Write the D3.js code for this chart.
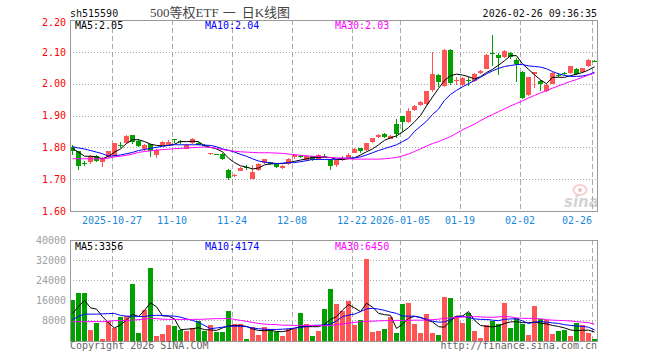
<!DOCTYPE html>
<html>
<head>
<meta charset="utf-8">
<script src="https://cdn.jsdelivr.net/npm/d3@7"></script>
<style>
  body { margin: 0; background: #fff; }
  svg { display: block; }
</style>
</head>
<body>
<svg id="kline" width="660" height="360"></svg>
<script>
// ---------------------------------------------------------------------------------------------------//
//                                   500等权ETF  DAILY K-LINE
// ---------------------------------------------------------------------------------------------------//

var dates = [
  "2025-10-16","2025-10-17","2025-10-20","2025-10-21","2025-10-22","2025-10-23","2025-10-24","2025-10-27","2025-10-28","2025-10-29","2025-10-30","2025-10-31",
  "2025-11-03","2025-11-04","2025-11-05","2025-11-06","2025-11-07","2025-11-10","2025-11-11","2025-11-12","2025-11-13","2025-11-14",
  "2025-11-17","2025-11-18","2025-11-19","2025-11-20","2025-11-21","2025-11-24","2025-11-25","2025-11-26","2025-11-27","2025-11-28",
  "2025-12-01","2025-12-02","2025-12-03","2025-12-04","2025-12-05","2025-12-08","2025-12-09","2025-12-10","2025-12-11","2025-12-12",
  "2025-12-15","2025-12-16","2025-12-17","2025-12-18","2025-12-19","2025-12-22","2025-12-23","2025-12-24","2025-12-25","2025-12-26",
  "2025-12-29","2025-12-30","2025-12-31","2026-01-05","2026-01-06","2026-01-07","2026-01-08","2026-01-09","2026-01-12","2026-01-13",
  "2026-01-14","2026-01-15","2026-01-16","2026-01-19","2026-01-20","2026-01-21","2026-01-22","2026-01-23","2026-01-26","2026-01-27",
  "2026-01-28","2026-01-29","2026-01-30","2026-02-02","2026-02-03","2026-02-04","2026-02-05","2026-02-06","2026-02-09","2026-02-10",
  "2026-02-11","2026-02-12","2026-02-13","2026-02-24","2026-02-25","2026-02-26"
];

var openP = [
  1.800,1.787,1.752,1.754,1.773,1.757,1.770,1.772,1.808,1.815,1.838,1.820,1.792,1.809,1.777,1.808,1.809,1.826,1.821,1.797,1.812,1.815,
  1.806,1.780,1.778,1.780,1.730,1.710,1.727,1.738,1.703,1.729,1.750,1.753,1.750,1.736,1.748,1.770,1.772,1.760,1.772,1.762,1.774,1.760,
  1.745,1.760,1.766,1.783,1.797,1.793,1.816,1.833,1.843,1.828,1.873,1.897,1.880,1.918,1.934,1.936,1.979,2.027,1.995,2.107,2.006,1.996,
  2.012,2.007,2.034,2.047,2.097,2.090,2.083,2.097,2.074,2.037,1.963,2.032,2.008,1.976,2.001,2.028,2.034,2.032,2.045,2.037,2.055,2.072
];
var highP = [
  1.806,1.790,1.758,1.775,1.776,1.771,1.790,1.815,1.816,1.840,1.840,1.826,1.810,1.812,1.795,1.820,1.822,1.827,1.824,1.810,1.830,1.818,
  1.810,1.783,1.779,1.782,1.732,1.716,1.737,1.743,1.746,1.750,1.764,1.755,1.752,1.744,1.766,1.778,1.775,1.776,1.774,1.778,1.780,1.762,
  1.762,1.773,1.781,1.797,1.798,1.815,1.830,1.843,1.844,1.838,1.888,1.900,1.924,1.932,1.945,1.978,2.100,2.030,2.108,2.108,2.020,2.020,
  2.020,2.032,2.042,2.092,2.153,2.095,2.106,2.100,2.080,2.040,2.022,2.038,2.010,1.998,2.037,2.032,2.037,2.057,2.050,2.050,2.078,2.073
];
var lowP = [
  1.775,1.728,1.742,1.749,1.755,1.738,1.768,1.770,1.798,1.812,1.812,1.800,1.788,1.771,1.766,1.806,1.806,1.813,1.812,1.795,1.810,1.806,
  1.800,1.776,1.776,1.760,1.698,1.706,1.725,1.730,1.700,1.727,1.748,1.745,1.735,1.732,1.745,1.762,1.765,1.758,1.758,1.760,1.768,1.730,
  1.737,1.757,1.764,1.781,1.782,1.790,1.814,1.828,1.828,1.826,1.828,1.848,1.878,1.915,1.930,1.933,1.975,1.990,1.990,1.995,1.995,1.994,
  1.992,2.005,2.030,2.045,2.055,2.028,2.080,2.076,2.006,1.953,1.960,1.985,1.976,1.974,1.998,2.022,2.028,2.030,2.027,2.035,2.052,2.070
];
var closeP = [
  1.786,1.740,1.750,1.772,1.758,1.768,1.788,1.813,1.806,1.836,1.816,1.805,1.806,1.787,1.793,1.817,1.818,1.825,1.818,1.808,1.825,1.810,
  1.804,1.782,1.777,1.763,1.704,1.714,1.735,1.736,1.724,1.748,1.762,1.748,1.738,1.742,1.764,1.776,1.768,1.774,1.760,1.775,1.772,1.740,
  1.760,1.765,1.775,1.795,1.789,1.814,1.828,1.840,1.834,1.836,1.842,1.877,1.915,1.929,1.942,1.976,2.029,2.006,2.107,2.002,2.010,2.018,
  2.008,2.030,2.040,2.090,2.094,2.082,2.103,2.086,2.060,1.956,2.020,2.037,2.000,1.996,2.034,2.026,2.033,2.054,2.030,2.048,2.074,2.071
];

// moving averages as drawn on the chart
var ma5 = [
  1.796,1.785,1.772,1.772,1.770,1.764,1.772,1.785,1.795,1.812,1.824,1.824,1.818,1.810,1.806,1.805,1.806,1.810,1.818,1.818,1.819,1.818,
  1.805,1.800,1.795,1.786,1.766,1.752,1.742,1.738,1.732,1.735,1.745,1.748,1.749,1.749,1.752,1.756,1.760,1.764,1.768,1.768,1.769,1.768,
  1.762,1.762,1.764,1.767,1.776,1.786,1.795,1.808,1.822,1.830,1.836,1.848,1.862,1.880,1.900,1.930,1.958,1.985,2.010,2.025,2.030,2.027,
  2.022,2.015,2.022,2.035,2.045,2.058,2.072,2.088,2.088,2.062,2.045,2.028,2.012,2.000,2.020,2.020,2.020,2.025,2.030,2.035,2.043,2.053
];
var ma10 = [
  1.802,1.798,1.795,1.790,1.785,1.780,1.772,1.774,1.776,1.780,1.784,1.790,1.793,1.797,1.800,1.803,1.806,1.808,1.808,1.808,1.808,1.808,
  1.807,1.806,1.802,1.795,1.791,1.785,1.778,1.772,1.764,1.757,1.754,1.751,1.749,1.750,1.752,1.752,1.755,1.758,1.762,1.762,1.762,1.762,
  1.763,1.766,1.766,1.767,1.770,1.776,1.783,1.790,1.796,1.802,1.808,1.818,1.828,1.850,1.866,1.882,1.903,1.920,1.948,1.966,1.979,1.990,
  2.000,2.010,2.020,2.031,2.040,2.048,2.054,2.057,2.060,2.060,2.056,2.054,2.052,2.047,2.038,2.031,2.026,2.023,2.023,2.024,2.028,2.036
];
var ma30 = [
  1.764,1.764,1.764,1.764,1.764,1.764,1.766,1.770,1.772,1.775,1.779,1.784,1.787,1.789,1.791,1.793,1.794,1.796,1.797,1.798,1.799,1.800,
  1.801,1.800,1.797,1.793,1.790,1.788,1.786,1.785,1.784,1.783,1.783,1.783,1.782,1.781,1.779,1.777,1.775,1.773,1.772,1.771,1.770,1.768,
  1.767,1.766,1.764,1.763,1.763,1.763,1.763,1.763,1.764,1.766,1.768,1.773,1.779,1.787,1.795,1.804,1.812,1.818,1.826,1.834,1.844,1.855,
  1.864,1.873,1.884,1.894,1.903,1.912,1.921,1.930,1.938,1.946,1.955,1.963,1.971,1.978,1.986,1.993,2.000,2.007,2.013,2.020,2.027,2.033
];

var volume = [
  16100,19100,19100,4100,6800,700,7900,4800,9200,9700,22500,2800,12100,28800,1700,2500,6100,5700,4100,3700,4800,7900,
  3700,6100,3200,3200,11900,6500,6500,500,5200,2100,5500,4400,3500,1700,4400,4500,11100,6500,1700,3900,12500,20500,
  14500,11700,15700,6100,8100,32500,3300,3900,4500,9300,2900,14500,14900,6500,2900,10500,2900,2100,17300,16900,9700,6900,
  10900,3700,900,6100,7700,6500,14900,4900,8900,6500,2100,13700,8500,8100,2500,3700,4100,1700,6900,6100,2900,500
];
var volMa5 = [
  10800,13500,16000,13000,12500,9500,7000,5000,6200,8100,10500,9500,12000,15000,13400,9800,9700,8600,4300,4500,4700,5100,
  4300,4200,4000,5000,5800,6000,6000,5600,4600,4000,3900,4000,3600,3500,4000,4900,5500,5500,5500,5500,6400,8400,
  9500,12100,14300,13000,11500,14800,13300,10800,10300,10000,4800,6500,8800,9600,9200,8100,7400,5500,5300,7800,9700,9700,
  11500,8000,6000,5600,5400,5800,6800,7400,7500,7100,7100,7300,6900,6600,6000,5600,5000,4200,3900,4100,4100,3400
];
var volMa10 = [
  8300,9600,10500,10500,10500,10600,10700,10800,10000,9700,9700,9600,9500,10000,10000,10000,9800,9700,9300,8600,8000,7200,
  6000,4700,5000,5300,5700,5700,5700,5500,5000,4700,4500,4400,4400,4500,4700,4900,5200,5600,6000,6100,6100,6500,
  7800,9500,10100,10500,11500,12600,12800,12500,12000,11300,10800,9700,9700,9700,9100,8500,7700,7300,7400,8400,9400,9700,
  9200,8600,8400,8400,8100,7900,8400,8600,8600,7800,6800,7300,7600,7300,7000,6800,6300,6000,5800,5600,5300,4200
];
var volMa30 = [
  7500,7500,7500,7500,7500,7500,7700,7900,7900,8000,8100,8300,8500,8800,8700,8500,8400,8400,8400,8400,8400,8400,
  8500,8600,8700,8700,8800,8400,8000,7600,7200,6800,6500,6400,6300,6100,6100,6000,6000,6000,6000,5900,5900,5900,
  6300,6600,6900,7200,7500,7600,7700,7800,7900,7900,8000,8000,8000,8100,8100,8100,8300,8500,8800,9000,9200,9300,
  9500,9500,9400,9300,9200,9400,9600,9400,9000,8800,8800,8800,8600,8300,8100,8000,7900,7800,7500,7300,7100,6500
];

var tickDates  = ["2025-10-27","2025-11-10","2025-11-24","2025-12-08","2025-12-22","2026-01-05","2026-01-19","2026-02-02","2026-02-26"];
var tickLabels = ["2025-10-27","11-10","11-24","12-08","12-22","2026-01-05","01-19","02-02","02-26"];
var priceTicks = [1.60, 1.70, 1.80, 1.90, 2.00, 2.10, 2.20];
var volTicks   = [8000, 16000, 24000, 32000, 40000];

var maLabels  = ["MA5:2.05", "MA10:2.04", "MA30:2.03"];
var volLabels = ["MA5:3356", "MA10:4174", "MA30:6450"];

// ---------------------------------------------------------------------------------------------------//

var RED = "#ff5555", GREEN = "#00a000";
var MA_COLORS = ["#000000", "#0000ff", "#ff00ff"];
var MONO = "'DejaVu Sans Mono', monospace";

var svg = d3.select("#kline");
var left = 70, right = 598;
var price = {top: 20, bottom: 211};
var vol = {top: 240, bottom: 340.5};

var x = d3.scaleBand().domain(dates).range([left, right]);
var yP = d3.scaleLinear().domain([1.6, 2.2]).range([price.bottom, price.top]);
var yV = d3.scaleLinear().domain([0, 40000]).range([vol.bottom, vol.top]);

function slot(d) { return Math.round(x(d)); }
function mid(d) { return slot(d) + 2.5; }
function isUp(i) { return closeP[i] >= openP[i]; }

//header
svg.append("text").attr("x", 70).attr("y", 16.5)
    .attr("font-family", MONO).attr("font-size", 10).attr("fill", "#111")
    .text("sh515590");
var title = svg.append("text").attr("x", 150).attr("y", 16.5)
    .attr("font-family", "'Liberation Serif', 'Noto Sans CJK SC'").attr("font-size", 13).attr("fill", "#444");
title.append("tspan").text("500等权ETF");
title.append("tspan").attr("dx", 4).text("一");
title.append("tspan").attr("dx", 6).text("日K线图");
svg.append("text").attr("x", 597).attr("y", 16.5).attr("text-anchor", "end")
    .attr("font-family", MONO).attr("font-size", 10).attr("fill", "#111")
    .text("2026-02-26 09:36:35");

//grid for one panel
function drawGrid(top, bottom, yScale, ticks) {
    var g = svg.append("g").attr("shape-rendering", "crispEdges");
    g.selectAll(".h").data(ticks.filter(function(t){ return Math.abs(yScale(t) - top) > 2 && Math.abs(yScale(t) - bottom) > 2; }))
      .enter().append("line")
        .attr("x1", left).attr("x2", 597)
        .attr("y1", function(t){ return Math.round(yScale(t)) + 0.5; })
        .attr("y2", function(t){ return Math.round(yScale(t)) + 0.5; })
        .attr("stroke", "#a8a8a8").attr("stroke-dasharray", "1,2");
    g.selectAll(".v").data(tickDates).enter().append("line")
        .attr("x1", function(d){ return slot(d) + 0.5; })
        .attr("x2", function(d){ return slot(d) + 0.5; })
        .attr("y1", top).attr("y2", bottom)
        .attr("stroke", "#aaaaaa").attr("stroke-dasharray", "5,3");
}

drawGrid(price.top, price.bottom, yP, priceTicks);
drawGrid(vol.top, vol.bottom, yV, volTicks);

//candles
var candles = svg.append("g").attr("shape-rendering", "crispEdges");
candles.selectAll(".wick").data(dates).enter().append("line")
    .attr("x1", mid).attr("x2", mid)
    .attr("y1", function(d, i){ return yP(highP[i]); })
    .attr("y2", function(d, i){ return yP(lowP[i]); })
    .attr("stroke", function(d, i){ return isUp(i) ? RED : GREEN; });
candles.selectAll(".body").data(dates).enter().append("rect")
    .attr("x", slot).attr("width", 5)
    .attr("y", function(d, i){ return Math.round(yP(Math.max(openP[i], closeP[i]))); })
    .attr("height", function(d, i){ return Math.max(1, Math.round(Math.abs(yP(openP[i]) - yP(closeP[i])))); })
    .attr("fill", function(d, i){ return isUp(i) ? RED : GREEN; });

//volume bars
svg.append("g").attr("shape-rendering", "crispEdges")
  .selectAll("rect").data(dates).enter().append("rect")
    .attr("x", slot).attr("width", 5)
    .attr("y", function(d, i){ return yV(volume[i]); })
    .attr("height", function(d, i){ return yV(0) - yV(volume[i]); })
    .attr("fill", function(d, i){ return isUp(i) ? RED : GREEN; });

//MA lines
function drawLines(series, yScale) {
    series.forEach(function(s, k) {
        var line = d3.line()
            .x(function(v, i){ return mid(dates[i]); })
            .y(function(v){ return yScale(v); });
        svg.append("path").datum(s)
            .attr("fill", "none").attr("stroke", MA_COLORS[k]).attr("stroke-width", 1)
            .attr("d", line);
    });
}
drawLines([ma5, ma10, ma30], yP);
drawLines([volMa5, volMa10, volMa30], yV);

//frames
[price, vol].forEach(function(p) {
    svg.append("rect").attr("x", left + 0.5).attr("y", Math.round(p.top) + 0.5)
        .attr("width", 597 - left).attr("height", Math.round(p.bottom) - Math.round(p.top))
        .attr("fill", "none").attr("stroke", "#999").attr("shape-rendering", "crispEdges");
});

//axes
var priceAxis = svg.append("g").attr("transform", "translate(" + left + ",0)")
    .call(d3.axisLeft(yP).tickValues(priceTicks).tickFormat(d3.format(".2f")).tickSize(0).tickPadding(4));
priceAxis.select(".domain").remove();
priceAxis.selectAll("text").attr("fill", "#ff0000").attr("font-family", MONO).attr("font-size", 10)
    .attr("dy", function(d){ return d === 2.2 ? "0.55em" : "0.32em"; });

var volAxis = svg.append("g").attr("transform", "translate(" + left + ",0)")
    .call(d3.axisLeft(yV).tickValues(volTicks).tickFormat(d3.format("d")).tickSize(0).tickPadding(4));
volAxis.select(".domain").remove();
volAxis.selectAll("text").attr("fill", "#a0a0a0").attr("font-family", MONO).attr("font-size", 10);

var dateAxis = svg.append("g").attr("transform", "translate(-3," + price.bottom + ")")
    .call(d3.axisBottom(x).tickValues(tickDates)
        .tickFormat(function(d){ return tickLabels[tickDates.indexOf(d)]; })
        .tickSize(0).tickPadding(6));
dateAxis.select(".domain").remove();
dateAxis.selectAll("text").attr("fill", "#1a88dd").attr("font-family", MONO).attr("font-size", 10);
// last label is pulled inside the frame
dateAxis.selectAll("text").filter(function(d){ return d === dates[dates.length - 1]; })
    .attr("text-anchor", "end").attr("x", 0);

//MA legends
[maLabels, volLabels].forEach(function(labels, r) {
    svg.selectAll(null).data(labels).enter().append("text")
        .attr("x", function(d, k){ return 75 + 130 * k; })
        .attr("y", r === 0 ? 29 : 249.5)
        .attr("font-family", MONO).attr("font-size", 10)
        .attr("fill", function(d, k){ return MA_COLORS[k]; })
        .text(function(d){ return d; });
});

//sina watermark
var wm = svg.append("g").attr("opacity", 0.5);
wm.append("ellipse").attr("cx", 580).attr("cy", 190).attr("rx", 6.5).attr("ry", 5)
    .attr("fill", "none").attr("stroke", "#f0a0a0").attr("stroke-width", 2);
wm.append("circle").attr("cx", 580).attr("cy", 190).attr("r", 2).attr("fill", "#e08080");
wm.append("text").attr("x", 564).attr("y", 207)
    .attr("font-family", "'DejaVu Sans', sans-serif").attr("font-size", 15)
    .attr("font-weight", "bold").attr("font-style", "italic").attr("fill", "#aaa")
    .text("sina");

//footer
svg.append("text").attr("x", 70).attr("y", 348.5)
    .attr("font-family", MONO).attr("font-size", 10).attr("fill", "#666")
    .text("Copyright 2026 SINA.COM");
svg.append("text").attr("x", 597).attr("y", 348.5).attr("text-anchor", "end")
    .attr("font-family", MONO).attr("font-size", 10).attr("fill", "#666")
    .text("http://finance.sina.com.cn");
</script>
</body>
</html>
